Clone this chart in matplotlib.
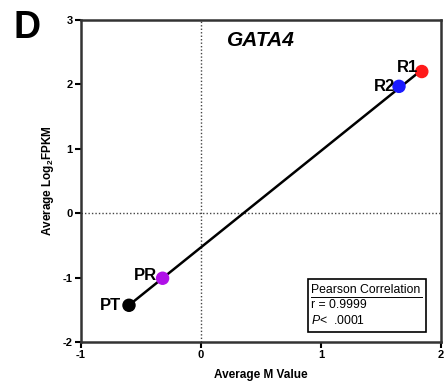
import numpy as np
import matplotlib
matplotlib.use("Agg")
import matplotlib.pyplot as plt

plt.rcParams['font.family'] = ['Liberation Sans', 'DejaVu Sans']
plt.rcParams['axes.unicode_minus'] = False
plt.rcParams['mathtext.fontset'] = 'custom'
plt.rcParams['mathtext.it'] = 'Liberation Sans:italic'
plt.rcParams['mathtext.bf'] = 'Liberation Sans:bold'
plt.rcParams['mathtext.rm'] = 'Liberation Sans'

samples = ['R1', 'R2', 'PR', 'PT']
m_value = [1.84, 1.65, -0.32, -0.60]
log2_fpkm = [2.20, 1.97, -1.01, -1.43]
colors = ['#ff1a1a', '#1a1aff', '#b010e8', '#000000']
pearson_r = '0.9999'
p_value = '.0001'

fig = plt.figure(figsize=(4.45, 3.88), dpi=100)
ax = fig.add_axes([0.182, 0.1186, 0.809, 0.8298])

# regression line over the range of the data
slope, intercept = np.polyfit(m_value, log2_fpkm, 1)
xs = np.array([min(m_value), max(m_value)])
ax.plot(xs, slope * xs + intercept, color='black', lw=1.8, zorder=2)

ax.axhline(0, color='#444444', lw=1, ls=(0, (1, 1.5)), zorder=1)
ax.axvline(0, color='#444444', lw=1, ls=(0, (1, 1.5)), zorder=1)

ax.scatter(m_value, log2_fpkm, c=colors, s=75, zorder=3)

offsets = {'R1': (-3, 3), 'R2': (-3, 0), 'PR': (-4, 2), 'PT': (-6, 0)}
for name, x, y in zip(samples, m_value, log2_fpkm):
    ax.annotate(name, (x, y), xytext=offsets[name], textcoords='offset points',
                ha='right', va='center', fontsize=12, fontweight='bold')

ax.set_xlim(-1, 2)
ax.set_ylim(-2, 3)
ax.set_xticks([-1, 0, 1, 2])
ax.set_yticks([-2, -1, 0, 1, 2, 3])
ax.tick_params(direction='out', length=4, width=1.5, labelsize=8, pad=2)
for lab in ax.get_xticklabels() + ax.get_yticklabels():
    lab.set_fontweight('bold')
for sp in ax.spines.values():
    sp.set_linewidth(1.8)
    sp.set_color('#333333')

ax.set_xlabel('Average M Value', fontsize=8.5, fontweight='bold', labelpad=6)
ax.set_ylabel(r'Average Log$_\mathbf{2}$FPKM', fontsize=8.5, fontweight='bold', labelpad=5)

ax.text(0.5, 0.935, 'GATA4', transform=ax.transAxes, ha='center', va='center',
        fontsize=15, fontweight='bold', fontstyle='italic')
fig.text(0.03, 0.927, 'D', fontsize=27, fontweight='bold', ha='left', va='center')

# Pearson correlation box
box = plt.Rectangle((0.63, 0.031), 0.328, 0.165, transform=ax.transAxes,
                    fill=False, lw=1.2, edgecolor='black', zorder=4)
ax.add_patch(box)
ax.text(0.64, 0.161, 'Pearson Correlation', transform=ax.transAxes,
        fontsize=8.8, va='center', ha='left')
ax.plot([0.64, 0.948], [0.141, 0.141], transform=ax.transAxes, color='black', lw=0.7)
ax.text(0.64, 0.115, 'r = ' + pearson_r, transform=ax.transAxes,
        fontsize=8.8, va='center', ha='left')
ax.text(0.64, 0.068, r'$P$<  ' + p_value, transform=ax.transAxes,
        fontsize=8.8, va='center', ha='left')

fig.savefig('out.png', dpi=100)
